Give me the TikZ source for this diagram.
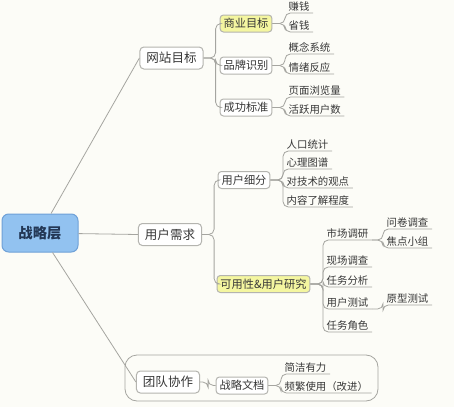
\documentclass[tikz,border=0pt]{standalone}
\usepackage{fontspec}
\setmainfont{Noto Sans CJK SC}
\definecolor{paper}{RGB}{252,252,247}
\definecolor{linegray}{RGB}{165,165,160}
\definecolor{boxedge}{RGB}{180,180,175}
\definecolor{ink}{RGB}{55,55,55}
\definecolor{rootfill}{RGB}{146,194,240}
\definecolor{rootedge}{RGB}{110,160,215}
\definecolor{rootink}{RGB}{35,55,85}
\definecolor{notefill}{RGB}{244,246,160}

\tikzset{every picture/.style={line width=0.75pt}}
\tikzset{
  rootbox/.style={draw=rootedge, fill=rootfill, rounded corners=5pt, minimum width=57pt, minimum height=28.5pt, text=rootink, font=\fontsize{10.75}{12}\selectfont\bfseries},
  topicbox/.style={draw=boxedge, fill=white, rounded corners=3pt, inner xsep=4.9pt, inner ysep=0pt, minimum height=16.5pt, text=ink, font=\fontsize{9.4}{11}\selectfont},
  subbox/.style={draw=boxedge, fill=white, rounded corners=2.5pt, inner xsep=2.6pt, inner ysep=0pt, minimum height=12.75pt, text=ink, font=\fontsize{8.4}{10}\selectfont},
  notebox/.style={fill=notefill},
  leaf/.style={anchor=south west, inner xsep=2.4pt, inner ysep=0.9pt, text=ink, font=\fontsize{7.8}{9}\selectfont},
  link/.style={draw=linegray, line width=0.6pt, rounded corners=4pt},
  framebox/.style={draw=linegray, line width=0.6pt, rounded corners=9pt},
}

\begin{document}
\begin{tikzpicture}[x=0.75pt,y=0.75pt,yscale=-1,xscale=1]
	% Paper
	\fill[paper] (0,0) rectangle (454,407);
	% Group Frame
	\draw[framebox] (125,355) rectangle (378,401);
	
	% Central Topic
	\node[rootbox] (strat) at (40,233) {战略层};
	% Main Topics
	\node[topicbox] (site) at (171.5,58) {网站目标};
	\node[topicbox] (need) at (170,234.5) {用户需求};
	\node[topicbox] (team) at (168,382) {团队协作};
	% Sub Topics
	\node[subbox,notebox] (biz) at (246,23.5) {商业目标};
	\node[subbox] (brand) at (246,65.5) {品牌识别};
	\node[subbox] (kpi) at (246,107.5) {成功标准};
	\node[subbox] (seg) at (244,180) {用户细分};
	\node[subbox,notebox] (ux) at (263.5,284) {可用性\&用户研究};
	\node[subbox] (doc) at (242,385.5) {战略文档};
	% Leaves
	\node[leaf] (earn) at (285,13) {赚钱};
	\node[leaf] (save) at (285,32) {省钱};
	\node[leaf] (concept) at (285,54) {概念系统};
	\node[leaf] (emotion) at (285,74) {情绪反应};
	\node[leaf] (pv) at (285,97) {页面浏览量};
	\node[leaf] (active) at (285,116) {活跃用户数};
	\node[leaf] (demo) at (283,151) {人口统计};
	\node[leaf] (psych) at (283,169) {心理图谱};
	\node[leaf] (tech) at (283,188) {对技术的观点};
	\node[leaf] (know) at (283,207) {内容了解程度};
	\node[leaf] (market) at (323,240) {市场调研};
	\node[leaf] (field) at (323,267) {现场调查};
	\node[leaf] (task) at (323,287) {任务分析};
	\node[leaf] (utest) at (323,309) {用户测试};
	\node[leaf] (persona) at (323,332) {任务角色};
	\node[leaf] (survey) at (383,229) {问卷调查};
	\node[leaf] (focus) at (383,248) {焦点小组};
	\node[leaf] (proto) at (383,305) {原型测试};
	\node[leaf] (concise) at (281,374) {简洁有力};
	\node[leaf] (often) at (281,393) {频繁使用（改进）};
	
	% Connection
	\draw[link] (strat) -- (site.west);
	\draw[link] (strat) -- (need.west);
	\draw[link] (strat) -- (team.west);
	% Connection
	\draw[link] (site.east) -- ++(12,0) |- (biz.west);
	\draw[link] (site.east) -- ++(12,0) |- (brand.west);
	\draw[link] (site.east) -- ++(12,0) |- (kpi.west);
	\draw[link] (need.east) -- ++(12,0) |- (seg.west);
	\draw[link] (need.east) -- ++(12,0) |- (ux.west);
	\draw[link] (team.east) -- ++(8,0) |- (doc.west);
	% Connection
	\draw[link] (biz.east) -- (biz.east -| earn.south west) |- (earn.south east);
	\draw[link] (biz.east) -- (biz.east -| save.south west) |- (save.south east);
	\draw[link] (brand.east) -- (brand.east -| concept.south west) |- (concept.south east);
	\draw[link] (brand.east) -- (brand.east -| emotion.south west) |- (emotion.south east);
	\draw[link] (kpi.east) -- (kpi.east -| pv.south west) |- (pv.south east);
	\draw[link] (kpi.east) -- (kpi.east -| active.south west) |- (active.south east);
	% Connection
	\draw[link] (seg.east) -- (seg.east -| demo.south west) |- (demo.south east);
	\draw[link] (seg.east) -- (seg.east -| psych.south west) |- (psych.south east);
	\draw[link] (seg.east) -- (seg.east -| tech.south west) |- (tech.south east);
	\draw[link] (seg.east) -- (seg.east -| know.south west) |- (know.south east);
	% Connection
	\draw[link] (ux.east) -- (ux.east -| market.south west) |- (market.south east);
	\draw[link] (ux.east) -- (ux.east -| field.south west) |- (field.south east);
	\draw[link] (ux.east) -- (ux.east -| task.south west) |- (task.south east);
	\draw[link] (ux.east) -- (ux.east -| utest.south west) |- (utest.south east);
	\draw[link] (ux.east) -- (ux.east -| persona.south west) |- (persona.south east);
	\draw[link] (market.south east) -- (market.south east -| survey.south west) |- (survey.south east);
	\draw[link] (market.south east) -- (market.south east -| focus.south west) |- (focus.south east);
	\draw[link] (utest.south east) -- (utest.south east -| proto.south west) |- (proto.south east);
	% Connection
	\draw[link] (doc.east) -- (doc.east -| concise.south west) |- (concise.south east);
	\draw[link] (doc.east) -- (doc.east -| often.south west) |- (often.south east);
	
\end{tikzpicture}
\end{document}
